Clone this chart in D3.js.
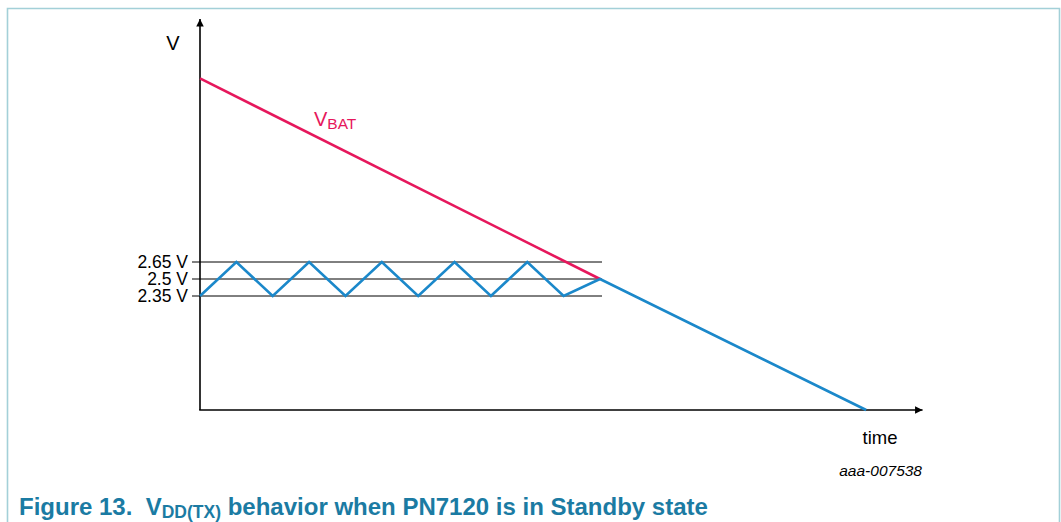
<!DOCTYPE html>
<html><head><meta charset="utf-8">
<script src="https://cdn.jsdelivr.net/npm/d3@7"></script>
<style>
html,body{margin:0;padding:0;background:#fff;}
svg{display:block;font-family:"Liberation Sans",Arial,sans-serif;}
</style></head>
<body>
<svg id="c" width="1061" height="522"></svg>
<script>
// Data (schematic: time in half-period units, voltage in V)
const thresholdLabels = ["2.65 V", "2.5 V", "2.35 V"];
const thresholdValues = [2.65, 2.5, 2.35];
const vbatTime = [0, 11];
const vbatVolt = [4.27, 2.5];
const vddTime = [0, 1, 2, 3, 4, 5, 6, 7, 8, 9, 10, 11, 18.32];
const vddVolt = [2.35, 2.65, 2.35, 2.65, 2.35, 2.65, 2.35, 2.65, 2.35, 2.65, 2.35, 2.5, 1.344];
const axisMin = { t: 0, v: 1.344 };
const axisMax = { t: 19.87, v: 4.8 };

const svg = d3.select("#c");
const x = d3.scaleLinear().domain([0, 11]).range([200, 600]);
const y = d3.scaleLinear().domain([2.35, 2.65]).range([296, 262]);

// frame
svg.append("path")
  .attr("d", "M7.5,522 V8.5 H1059.5 V522")
  .attr("fill", "none").attr("stroke", "#a3d0d8").attr("stroke-width", 1.6);

// arrow marker
const defs = svg.append("defs");
defs.append("marker").attr("id", "arr").attr("viewBox", "0 0 10 10")
  .attr("refX", 10).attr("refY", 5).attr("markerWidth", 9).attr("markerHeight", 7.5)
  .attr("markerUnits", "userSpaceOnUse").attr("orient", "auto")
  .append("path").attr("d", "M0,0 L10,5 L0,10 Z").attr("fill", "#000");

// threshold lines
svg.selectAll("line.th").data(thresholdValues).enter().append("line")
  .attr("class", "th")
  .attr("x1", x(0) - 8).attr("x2", x(11) + 2)
  .attr("y1", d => y(d)).attr("y2", d => y(d))
  .attr("stroke", "#000").attr("stroke-width", 1);

svg.selectAll("text.tl").data(thresholdLabels).enter().append("text")
  .attr("class", "tl")
  .attr("x", 188).attr("y", (d, i) => y(thresholdValues[i]) + 6)
  .attr("text-anchor", "end").attr("font-size", 17.5).attr("fill", "#000")
  .text(d => d);

// axes
svg.append("line").attr("x1", x(axisMin.t)).attr("x2", x(axisMin.t))
  .attr("y1", y(axisMin.v)).attr("y2", 19)
  .attr("stroke", "#000").attr("stroke-width", 1.6).attr("marker-end", "url(#arr)");
svg.append("line").attr("x1", x(axisMin.t) - 0.8).attr("x2", x(axisMax.t))
  .attr("y1", y(axisMin.v)).attr("y2", y(axisMin.v))
  .attr("stroke", "#000").attr("stroke-width", 1.6).attr("marker-end", "url(#arr)");

const line = d3.line().x(d => x(d[0])).y(d => y(d[1]));

// VBAT
svg.append("path").datum(vbatTime.map((t, i) => [t, vbatVolt[i]]))
  .attr("d", line).attr("fill", "none").attr("stroke", "#e6175c").attr("stroke-width", 2.6);

// VDD(TX)
svg.append("path").datum(vddTime.map((t, i) => [t, vddVolt[i]]))
  .attr("d", line).attr("fill", "none").attr("stroke", "#1b88ca").attr("stroke-width", 2.6)
  .attr("stroke-linejoin", "miter");

// labels
svg.append("text").attr("x", 173).attr("y", 50).attr("text-anchor", "middle")
  .attr("font-size", 20).text("V");
const vb = svg.append("text").attr("x", 314).attr("y", 126).attr("fill", "#e6175c").attr("font-size", 20);
vb.append("tspan").text("V");
vb.append("tspan").attr("font-size", 15.5).attr("dy", 3).text("BAT");

svg.append("text").attr("x", 880).attr("y", 444).attr("text-anchor", "middle")
  .attr("font-size", 18.5).text("time");
svg.append("text").attr("x", 922).attr("y", 476).attr("text-anchor", "end")
  .attr("font-size", 15.5).attr("font-style", "italic").text("aaa-007538");

// title
const tt = svg.append("text").attr("x", 19).attr("y", 515).attr("font-size", 24)
  .attr("font-weight", "bold").attr("fill", "#1b7ba3");
tt.append("tspan").text("Figure 13.\u00a0\u00a0V");
tt.append("tspan").attr("font-size", 17.5).attr("dy", 2.5).text("DD(TX)");
tt.append("tspan").attr("dy", -2.5).text(" behavior when PN7120 is in Standby state");
</script>
</body></html>
